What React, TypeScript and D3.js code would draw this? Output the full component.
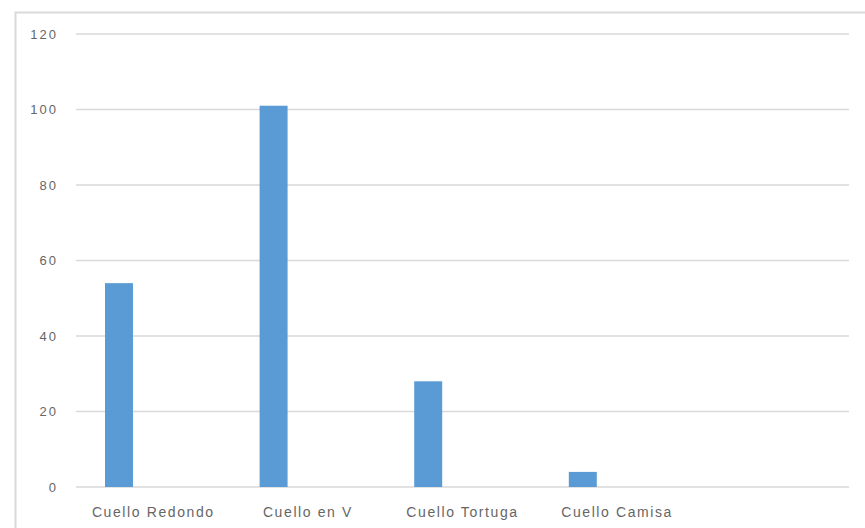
import React from "react";
import * as d3 from "d3";

const categories = ["Cuello Redondo", "Cuello en V", "Cuello Tortuga", "Cuello Camisa", ""];
const values: (number | null)[] = [54, 101, 28, 4, null];
const yTicks = [0, 20, 40, 60, 80, 100, 120];

const W = 865;
const H = 528;
const plot = { left: 76, right: 849, top: 34, bottom: 487 };

export default function App() {
  const x = d3
    .scaleBand<string>()
    .domain(categories.map((c, i) => String(i)))
    .range([plot.left, plot.right])
    .paddingInner(0)
    .paddingOuter(0);
  const y = d3.scaleLinear().domain([0, 120]).range([plot.bottom, plot.top]);
  const bw = x.bandwidth();
  const barOffset = bw * 0.1876;
  const barW = bw * 0.181;
  const textColor = "#666666";
  const font = "'Liberation Sans', Arial, sans-serif";

  return (
    <svg
      width={W}
      height={H}
      style={{ position: "absolute", left: 0, top: 0, display: "block", background: "#fff" }}
    >
      <rect x={15.5} y={12.5} width={W + 10} height={H + 10} fill="#fff" stroke="#d9d9d9" strokeWidth={2} />
      {yTicks.map((t) => (
        <g key={t}>
          <line x1={plot.left} x2={plot.right} y1={y(t)} y2={y(t)} stroke="#d9d9d9" strokeWidth={1.5} />
          <text
            x={58}
            y={y(t)}
            dy="0.35em"
            textAnchor="end"
            fill={textColor}
            fontFamily={font}
            fontSize={13}
            letterSpacing={2}
          >
            {t}
          </text>
        </g>
      ))}
      {values.map((v, i) =>
        v == null ? null : (
          <rect
            key={i}
            x={(x(String(i)) as number) + barOffset}
            y={y(v)}
            width={barW}
            height={y(0) - y(v)}
            fill="#5b9bd5"
          />
        )
      )}
      {categories.map((c, i) => (
        <text
          key={i}
          x={(x(String(i)) as number) + bw / 2}
          y={512}
          dy="0.35em"
          textAnchor="middle"
          fill={textColor}
          fontFamily={font}
          fontSize={14}
          letterSpacing={1.6}
        >
          {c}
        </text>
      ))}
    </svg>
  );
}
